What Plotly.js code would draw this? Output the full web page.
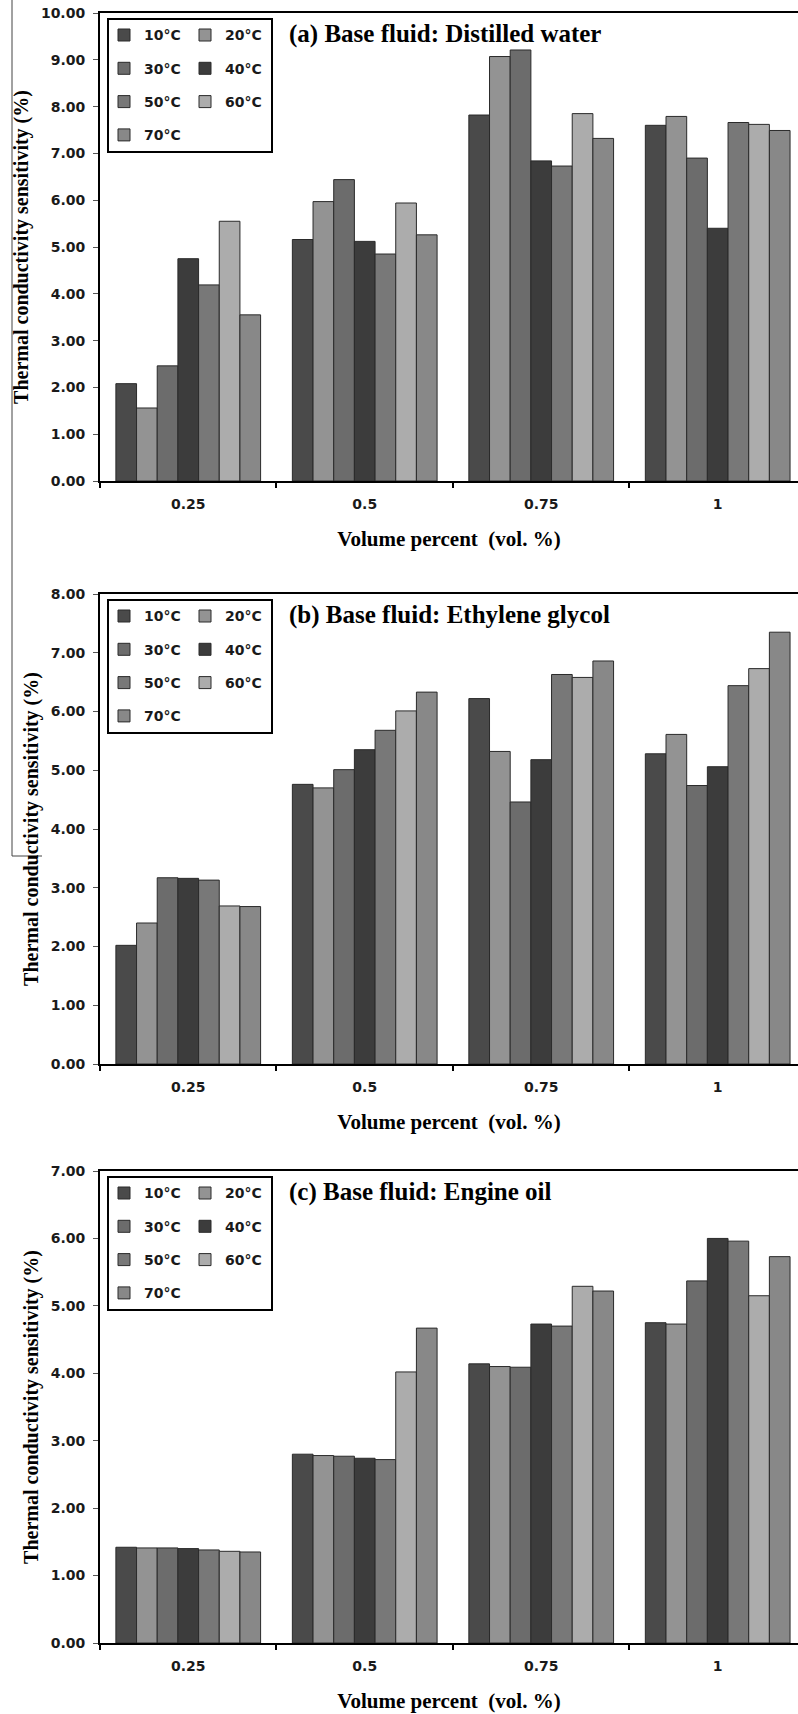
<!DOCTYPE html>
<html><head><meta charset="utf-8">
<script src="https://cdn.plot.ly/plotly-3.0.1.min.js"></script>
<style>html,body{margin:0;padding:0;background:#fff;} #chart{width:798px;height:1714px;}</style>
</head><body><div id="chart"></div>
<script>
// ---------- data ----------
const volumePercent = ['0.25', '0.5', '0.75', '1'];
const temperatures = ['10°C', '20°C', '30°C', '40°C', '50°C', '60°C', '70°C'];

// rows: 10°C ... 70°C, columns: 0.25, 0.5, 0.75, 1 vol.%
const distilledWater = [
  [2.08, 5.16, 7.82, 7.60],
  [1.56, 5.97, 9.07, 7.79],
  [2.46, 6.44, 9.21, 6.90],
  [4.75, 5.12, 6.84, 5.40],
  [4.19, 4.85, 6.73, 7.66],
  [5.55, 5.94, 7.85, 7.62],
  [3.55, 5.26, 7.32, 7.49]
];
const ethyleneGlycol = [
  [2.02, 4.76, 6.22, 5.28],
  [2.40, 4.70, 5.32, 5.61],
  [3.17, 5.01, 4.46, 4.74],
  [3.16, 5.35, 5.18, 5.06],
  [3.13, 5.68, 6.63, 6.44],
  [2.69, 6.01, 6.58, 6.73],
  [2.68, 6.33, 6.86, 7.35]
];
const engineOil = [
  [1.42, 2.80, 4.14, 4.75],
  [1.41, 2.78, 4.10, 4.73],
  [1.41, 2.77, 4.09, 5.37],
  [1.40, 2.74, 4.73, 6.00],
  [1.38, 2.72, 4.70, 5.96],
  [1.36, 4.02, 5.29, 5.15],
  [1.35, 4.67, 5.22, 5.73]
];
const panelTitles = ['(a) Base fluid: Distilled water', '(b) Base fluid: Ethylene glycol', '(c) Base fluid: Engine oil'];
const yAxisMax = [10, 8, 7];
const xAxisTitle = 'Volume percent\u00a0 (vol. %)';
const yAxisTitle = 'Thermal conductivity sensitivity (%)';

// ---------- style ----------
const seriesColors = ['#4a4a4a', '#939393', '#6c6c6c', '#3c3c3c', '#787878', '#acacac', '#888888'];
const W = 798, H = 1714, L = 100;
const plotTops = [13, 594, 1171];
const plotBottoms = [481, 1064, 1643];
const py = v => (H - v) / H;
const px = v => (v - L) / (W - L);
const panels = [distilledWater, ethyleneGlycol, engineOil];

const sansBold = {family: 'DejaVu Sans, Verdana, sans-serif', size: 14, color: '#1a1a1a', weight: 700};
const serifBold = {family: 'Liberation Serif, Times New Roman, serif', size: 20, color: '#000', weight: 700};

const traces = [];
const layout = {
  width: W, height: H,
  margin: {l: L, r: 0, t: 0, b: 0},
  paper_bgcolor: '#fff', plot_bgcolor: '#fff',
  bargap: 0.18, bargroupgap: 0,
  barmode: 'group',
  annotations: [], shapes: [],
  font: sansBold
};

panels.forEach((data, p) => {
  const xa = p === 0 ? 'x' : 'x' + (p + 1);
  const ya = p === 0 ? 'y' : 'y' + (p + 1);
  data.forEach((vals, s) => {
    const col = s % 2;
    const n = p * 2 + col + 1;
    const legId = n === 1 ? 'legend' : 'legend' + n;
    traces.push({
      type: 'bar', x: volumePercent, y: vals, name: temperatures[s],
      xaxis: xa, yaxis: ya, legend: legId, legendgroup: 'p' + p + 's' + s,
      marker: {color: seriesColors[s], line: {color: '#2a2a2a', width: 1}},
      hovertemplate: '%{x}: %{y:.2f}<extra>' + temperatures[s] + '</extra>'
    });
  });
  const dom = [py(plotBottoms[p]), py(plotTops[p])];
  layout['xaxis' + (p === 0 ? '' : p + 1)] = {
    type: 'category', domain: [0, 1], anchor: ya, range: [-0.5, 3.455],
    showline: true, linecolor: '#000', linewidth: 2, mirror: true,
    ticks: 'outside', tickson: 'boundaries', ticklen: 5, tickcolor: '#000', tickwidth: 2,
    ticklabelstandoff: 9, tickfont: sansBold, showgrid: false, zeroline: false,
    title: {text: xAxisTitle, font: {family: serifBold.family, size: 21, color: '#000', weight: 700}, standoff: 21}
  };
  layout['yaxis' + (p === 0 ? '' : p + 1)] = {
    domain: dom, anchor: xa, range: [0, yAxisMax[p]], dtick: 1, tickformat: '.2f',
    showline: true, linecolor: '#000', linewidth: 2,
    ticks: 'outside', ticklen: 5, tickcolor: '#555', tickwidth: 1,
    ticklabelstandoff: 5, tickfont: sansBold, showgrid: false, zeroline: false,
    title: {text: yAxisTitle, font: serifBold, standoff: 7}
  };
  // legends: two columns
  const legTop = py(plotTops[p] + 6.4);
  const legCommon = {
    orientation: 'v', yanchor: 'top', xanchor: 'left', y: legTop,
    bgcolor: 'rgba(0,0,0,0)', borderwidth: 0, font: sansBold,
    traceorder: 'grouped', tracegroupgap: 12.1
  };
  layout['legend' + (p === 0 ? '' : (p * 2 + 1))] = Object.assign({x: px(104)}, legCommon);
  layout['legend' + (p * 2 + 2)] = Object.assign({x: px(185)}, legCommon);
  // legend box
  layout.shapes.push({
    type: 'rect', xref: 'paper', yref: 'paper',
    x0: px(108), x1: px(272), y0: py(plotTops[p] + 139), y1: py(plotTops[p] + 6),
    line: {color: '#000', width: 2}, fillcolor: 'rgba(0,0,0,0)', layer: 'above'
  });
  // panel title
  layout.annotations.push({
    text: panelTitles[p], xref: 'paper', yref: 'paper',
    x: px(287), y: py(plotTops[p] + 21), xanchor: 'left', yanchor: 'middle',
    showarrow: false, font: {family: 'Liberation Serif, Times New Roman, serif', size: 25, color: '#000', weight: 700}
  });
});

// page-edge lines from the source scan
layout.shapes.push({type: 'line', xref: 'paper', yref: 'paper', x0: px(12), x1: px(12), y0: py(0), y1: py(856), line: {color: '#444', width: 1}});
layout.shapes.push({type: 'line', xref: 'paper', yref: 'paper', x0: px(12), x1: px(42), y0: py(856), y1: py(856), line: {color: '#444', width: 1}});

Plotly.newPlot('chart', traces, layout, {displayModeBar: false, staticPlot: true});
</script>
</body></html>
